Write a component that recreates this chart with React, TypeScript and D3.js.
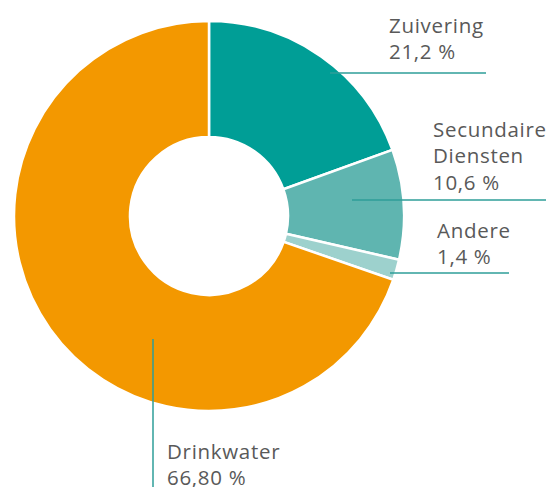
import React from 'react';
import * as d3 from 'd3';

const categories = ['Zuivering', 'Secundaire Diensten', 'Andere', 'Drinkwater'];
const sliceValues = [19.5, 9.1, 1.7, 69.7];
const valueLabels = ['21,2 %', '10,6 %', '1,4 %', '66,80 %'];
const colors = ['#009E96', '#5FB5B0', '#9DD1CD', '#F39800'];

// label placement per slice (text lines + leader line)
const labelLayout = [
  { x: 389, y: 33, lines: ['Zuivering'], line: [[330, 73], [486, 73]] },
  { x: 433, y: 137, lines: ['Secundaire', 'Diensten'], line: [[352, 200], [546, 200]] },
  { x: 437, y: 238, lines: ['Andere'], line: [[390, 273], [509, 273]] },
  { x: 167, y: 459, lines: ['Drinkwater'], line: [[153, 339], [153, 487]] },
];

const width = 551;
const height = 487;

const App: React.FC = () => {
  const svgRef = React.useRef<SVGSVGElement>(null);

  React.useEffect(() => {
    if (!svgRef.current) return;
    const svg = d3.select(svgRef.current);
    svg.selectAll('*').remove();

    const cx = 209;
    const cy = 216;
    const outerR = 195;
    const innerR = 79;

    const pie = d3.pie<number>().sort(null).value(d => d);
    const arc = d3.arc<d3.PieArcDatum<number>>().innerRadius(innerR).outerRadius(outerR);

    const g = svg.append('g').attr('transform', `translate(${cx},${cy})`);

    g.selectAll('path')
      .data(pie(sliceValues))
      .enter().append('path')
      .attr('d', arc)
      .attr('fill', (_, i) => colors[i])
      .attr('stroke', '#fff')
      .attr('stroke-width', 2.5);

    // leader lines
    const lineGen = d3.line();
    labelLayout.forEach(l => {
      svg.append('path')
        .attr('d', lineGen(l.line as [number, number][]))
        .attr('fill', 'none')
        .attr('stroke', '#2E9E98')
        .attr('stroke-width', 1.5);
    });

    // labels
    labelLayout.forEach((l, i) => {
      const text = svg.append('text')
        .attr('x', l.x)
        .attr('y', l.y)
        .attr('font-family', '"Open Sans", sans-serif')
        .attr('font-size', '20.5px')
        .attr('letter-spacing', '0.7px')
        .attr('fill', '#595959');
      [...l.lines, valueLabels[i]].forEach((t, j) => {
        text.append('tspan')
          .attr('x', l.x)
          .attr('dy', j === 0 ? 0 : 26.3)
          .text(t);
      });
    });
  }, []);

  return (
    <svg
      ref={svgRef}
      width={width}
      height={height}
      style={{ position: 'absolute', left: 0, top: 0 }}
      aria-label={categories.join(', ')}
    />
  );
};

export default App;
